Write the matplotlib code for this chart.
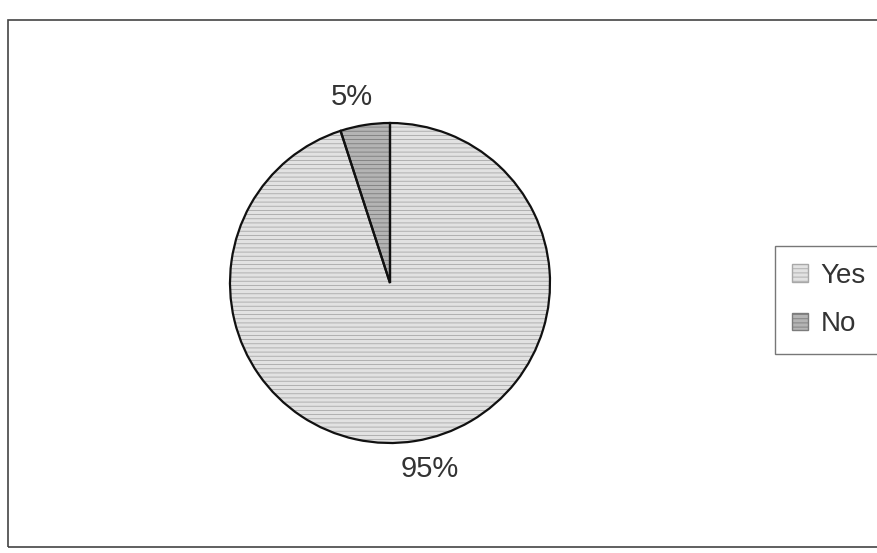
import matplotlib
matplotlib.use("Agg")
import matplotlib.pyplot as plt
from matplotlib.patches import Rectangle

categories = ["Yes", "No"]
values = [95, 5]
pct_labels = ["95%", "5%"]

face_colors = ["#e2e2e2", "#b4b4b4"]
hatch_colors = ["#a8a8a8", "#7c7c7c"]

plt.rcParams["font.family"] = ["Liberation Sans", "DejaVu Sans"]
plt.rcParams["hatch.linewidth"] = 0.6

W, H = 878, 553
fig = plt.figure(figsize=(W / 100, H / 100), dpi=100)
fig.patch.set_facecolor("white")

cx, cy, r = 390, 283, 160
ax = fig.add_axes([(cx - r) / W, (H - cy - r) / H, 2 * r / W, 2 * r / H])

wedges, _ = ax.pie(values, startangle=90, counterclock=False, radius=1,
                   colors=face_colors,
                   wedgeprops=dict(linewidth=0, hatch="----"))
for w, hc in zip(wedges, hatch_colors):
    w.set_edgecolor(hc)
    w.set_linewidth(0)

ax.pie(values, startangle=90, counterclock=False, radius=1,
       colors=["none", "none"],
       wedgeprops=dict(edgecolor="#111111", linewidth=1.6, fill=False))

ax.set_xlim(-1, 1)
ax.set_ylim(-1, 1)
ax.set_aspect("equal")
ax.axis("off")

# percentage labels (positions in pie data units)
label_pos = {"95%": (0.25, -1.16), "5%": (-0.24, 1.16)}
for t in pct_labels:
    x, y = label_pos[t]
    ax.text(x, y, t, ha="center", va="center", fontsize=21, color="#333333")

leg = fig.legend(wedges, categories, loc="center left",
                 bbox_to_anchor=(775 / W, 1 - 300 / H),
                 fontsize=20, frameon=True, fancybox=False,
                 edgecolor="#555555", handlelength=0.6, handleheight=0.6,
                 handletextpad=0.45, labelspacing=0.8, borderpad=0.6,
                 borderaxespad=0)
leg.get_frame().set_linewidth(1.0)
for h in leg.legend_handles:
    h.set_linewidth(1.0)
for txt in leg.get_texts():
    txt.set_color("#333333")

# outer chart border
fig.add_artist(Rectangle((8 / W, 6 / H), (W + 10) / W, (H - 26) / H,
                         transform=fig.transFigure, fill=False,
                         edgecolor="#444444", linewidth=1.2))

fig.savefig("out.png", dpi=100)
